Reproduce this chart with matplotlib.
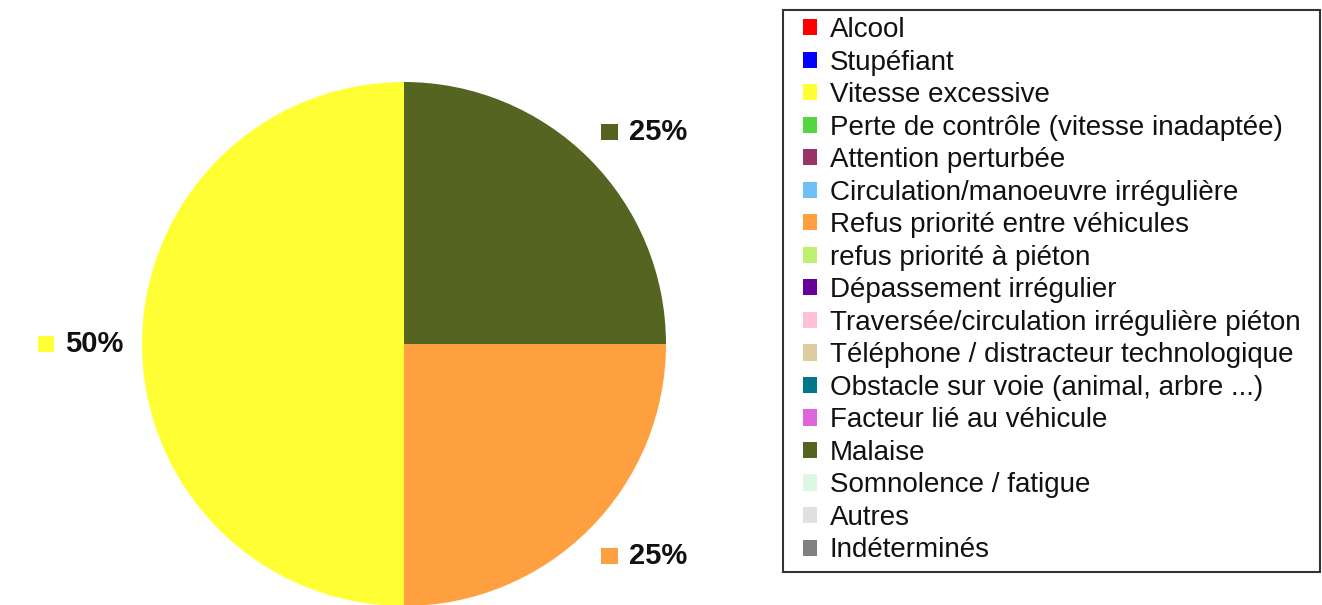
import matplotlib
matplotlib.use('Agg')
import matplotlib.pyplot as plt
import numpy as np
from matplotlib.offsetbox import AnnotationBbox, DrawingArea, HPacker, TextArea
from matplotlib.patches import Rectangle

plt.rcParams['font.family'] = ['Liberation Sans', 'DejaVu Sans']

#### data
categories = ['Alcool', 'Stupéfiant', 'Vitesse excessive',
              'Perte de contrôle (vitesse inadaptée)', 'Attention perturbée',
              'Circulation/manoeuvre irrégulière', 'Refus priorité entre véhicules',
              'refus priorité à piéton', 'Dépassement irrégulier',
              'Traversée/circulation irrégulière piéton',
              'Téléphone / distracteur technologique',
              'Obstacle sur voie (animal, arbre ...)', 'Facteur lié au véhicule',
              'Malaise', 'Somnolence / fatigue', 'Autres', 'Indéterminés']
values = [0, 0, 50, 0, 0, 0, 25, 0, 0, 0, 0, 0, 0, 25, 0, 0, 0]
colors = ['#FF0000', '#0000FF', '#FFFF33', '#55D640', '#993366', '#70C0F8',
          '#FFA040', '#C0F070', '#660099', '#FFC0D8', '#DDCCA0', '#007788',
          '#DD66DD', '#556420', '#DDF8E0', '#E0E0E0', '#808080']

W, H = 1322, 605
fig = plt.figure(figsize=(W / 100, H / 100), dpi=100)
ax = fig.add_axes([0, 0, 1, 1])

#### pie
cx, cy, rad = 404, H - 344, 262
wedges, _ = ax.pie(values, colors=colors, startangle=90, counterclock=True,
                   center=(cx, cy), radius=rad, frame=True)
ax.set_xlim(0, W)
ax.set_ylim(0, H)
ax.axis('off')

#### value labels with small colored squares
for w, v, c in zip(wedges, values, colors):
    if v == 0:
        continue
    ang = np.deg2rad((w.theta1 + w.theta2) / 2)
    if np.cos(ang) > 0:
        x = cx + 1.065 * rad * np.cos(ang)
        y = cy + 1.145 * rad * np.sin(ang)
        align = (0, 0.5)
    else:
        x = cx + 1.07 * rad * np.cos(ang)
        y = cy + 1.07 * rad * np.sin(ang)
        align = (1, 0.5)
    da = DrawingArea(12, 12, 0, 0)
    da.add_artist(Rectangle((0, 0), 12, 12, fc=c, ec='none'))
    ta = TextArea('%d%%' % v, textprops=dict(fontsize=21, fontweight='bold', color='#111111'))
    box = HPacker(children=[da, ta], align='center', pad=0, sep=8)
    ab = AnnotationBbox(box, (x, y), box_alignment=align, frameon=False)
    ax.add_artist(ab)

#### legend (frame drawn separately)
handles = [Rectangle((0, 0), 1, 1, fc=c, ec='none') for c in colors]
leg = fig.legend(handles, categories, loc='upper left',
                 bbox_to_anchor=(803 / W, (H - 17) / H), borderaxespad=0,
                 fontsize=20, handlelength=0.52, handleheight=0.52,
                 handletextpad=0.45, labelspacing=0.235, borderpad=0,
                 frameon=False)
for t in leg.get_texts():
    t.set_color('#111111')

frame = Rectangle((783 / W, (H - 572) / H), (1320 - 783) / W, (572 - 10) / H,
                  transform=fig.transFigure, fill=False, ec='#333333', lw=1.5)
fig.add_artist(frame)

plt.savefig('out.png', dpi=100)
